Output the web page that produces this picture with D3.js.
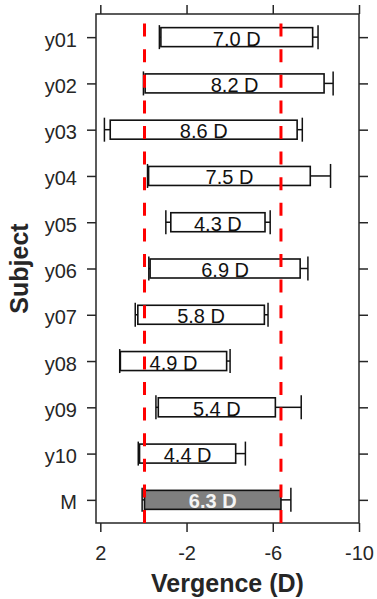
<!DOCTYPE html>
<html>
<head>
<meta charset="utf-8">
<script src="https://cdn.jsdelivr.net/npm/d3@7"></script>
<style>
  body { margin: 0; background: #fff; }
  svg { font-family: "Liberation Sans", Arial, sans-serif; }
</style>
</head>
<body>
<div id="chart"></div>
<script>
const SUBJECTS = ["y01", "y02", "y03", "y04", "y05", "y06", "y07", "y08", "y09", "y10", "M"];
// bar start (near point) and end (far point), in D
const NEAR = [-0.81, -0.08, 1.54, -0.24, -1.27, -0.31, 0.26, 1.07, -0.69, 0.18, -0.05];
const FAR = [-7.85, -8.38, -7.13, -7.74, -5.64, -7.27, -5.61, -3.86, -6.12, -4.28, -6.38];
// spread at each end (whiskers)
const NEAR_SD = [0.07, 0.08, 0.27, 0.05, 0.23, 0.06, 0.12, 0.03, 0.11, 0.06, 0.11];
const FAR_SD = [0.25, 0.42, 0.24, 0.94, 0.24, 0.36, 0.17, 0.16, 1.20, 0.45, 0.46];
const LABELS = ["7.0 D", "8.2 D", "8.6 D", "7.5 D", "4.3 D", "6.9 D", "5.8 D", "4.9 D", "5.4 D", "4.4 D", "6.3 D"];
const REF_LINES = [-0.05, -6.38];
const X_TICKS = [2, -2, -6, -10];

const W = 377, H = 599;
const BOX = { left: 96, right: 359, top: 14, bottom: 523 };
const INK = "#262626";

const svg = d3.select("#chart").append("svg")
    .attr("width", W)
    .attr("height", H);

const x = d3.scaleLinear()
    .domain([2.2, -10])
    .range([BOX.left, BOX.right]);

const y = d3.scalePoint()
    .domain(SUBJECTS)
    .range([BOX.top, BOX.bottom])
    .padding(0.5);

const rows = SUBJECTS.map((s, i) => ({
    subject: s,
    near: NEAR[i],
    far: FAR[i],
    nearEnd: NEAR[i] + NEAR_SD[i],
    farEnd: FAR[i] - FAR_SD[i],
    label: LABELS[i],
    mean: s == "M"
}));

// axes (plain hyphen for negatives, like the original)
const bottomAxis = svg.append("g")
    .attr("transform", `translate(0,${BOX.bottom})`)
    .call(d3.axisBottom(x).tickValues(X_TICKS).tickFormat(d => String(d))
        .tickSize(9).tickPadding(14).tickSizeOuter(0));
const topAxis = svg.append("g")
    .attr("transform", `translate(0,${BOX.top})`)
    .call(d3.axisTop(x).tickValues(X_TICKS).tickSize(9).tickFormat("").tickSizeOuter(0));
const leftAxis = svg.append("g")
    .attr("transform", `translate(${BOX.left},0)`)
    .call(d3.axisLeft(y).tickSize(9).tickPadding(10).tickSizeOuter(0));
const rightAxis = svg.append("g")
    .attr("transform", `translate(${BOX.right},0)`)
    .call(d3.axisRight(y).tickSize(9).tickFormat("").tickSizeOuter(0));

[bottomAxis, topAxis, leftAxis, rightAxis].forEach(g => {
    g.select(".domain").remove();
    g.selectAll("line").attr("stroke", INK).attr("stroke-width", 1.5);
    g.selectAll("text")
        .attr("fill", INK)
        .style("font-size", "20px")
        .style("font-family", "'Liberation Sans', Arial, sans-serif");
});
leftAxis.selectAll("text").attr("dy", "0.45em");

svg.append("rect")
    .attr("x", BOX.left)
    .attr("y", BOX.top)
    .attr("width", BOX.right - BOX.left)
    .attr("height", BOX.bottom - BOX.top)
    .attr("fill", "none")
    .attr("stroke", INK)
    .attr("stroke-width", 1.5);

// whiskers
const BAR_H = 19, CAP_H = 24;
const whiskers = svg.append("g")
    .attr("stroke", "#111")
    .attr("stroke-width", 1.5);
rows.forEach(d => {
    const cy = y(d.subject);
    [[d.near, d.nearEnd], [d.far, d.farEnd]].forEach(([a, b]) => {
        whiskers.append("line")
            .attr("x1", x(a)).attr("x2", x(b))
            .attr("y1", cy).attr("y2", cy);
        whiskers.append("line")
            .attr("x1", x(b)).attr("x2", x(b))
            .attr("y1", cy - CAP_H / 2).attr("y2", cy + CAP_H / 2);
    });
});

// bars
svg.append("g")
    .selectAll("rect")
    .data(rows)
    .join("rect")
    .attr("x", d => x(d.near))
    .attr("y", d => y(d.subject) - BAR_H / 2)
    .attr("width", d => x(d.far) - x(d.near))
    .attr("height", BAR_H)
    .attr("fill", d => d.mean ? "#7f7f7f" : "#fff")
    .attr("stroke", "#111")
    .attr("stroke-width", 1.6);

svg.append("g")
    .selectAll("text")
    .data(rows)
    .join("text")
    .attr("x", d => (x(d.near) + x(d.far)) / 2)
    .attr("y", d => y(d.subject) + 8.5)
    .attr("text-anchor", "middle")
    .attr("fill", d => d.mean ? "#f4f4f4" : "#111")
    .style("font-size", "20px")
    .style("font-weight", d => d.mean ? "bold" : "normal")
    .text(d => d.label);

// dashed reference lines
svg.append("g")
    .selectAll("line")
    .data(REF_LINES)
    .join("line")
    .attr("x1", d => x(d)).attr("x2", d => x(d))
    .attr("y1", BOX.bottom).attr("y2", BOX.top)
    .attr("stroke", "#ff0000")
    .attr("stroke-width", 3)
    .attr("stroke-dasharray", "13,12.6");

// axis titles
svg.append("text")
    .attr("x", (BOX.left + BOX.right) / 2)
    .attr("y", 592)
    .attr("text-anchor", "middle")
    .attr("fill", INK)
    .style("font-size", "25px")
    .style("font-weight", "bold")
    .text("Vergence (D)");

svg.append("text")
    .attr("transform", `translate(28, ${(BOX.top + BOX.bottom) / 2}) rotate(-90)`)
    .attr("text-anchor", "middle")
    .attr("fill", INK)
    .style("font-size", "25px")
    .style("font-weight", "bold")
    .text("Subject");
</script>
</body>
</html>
